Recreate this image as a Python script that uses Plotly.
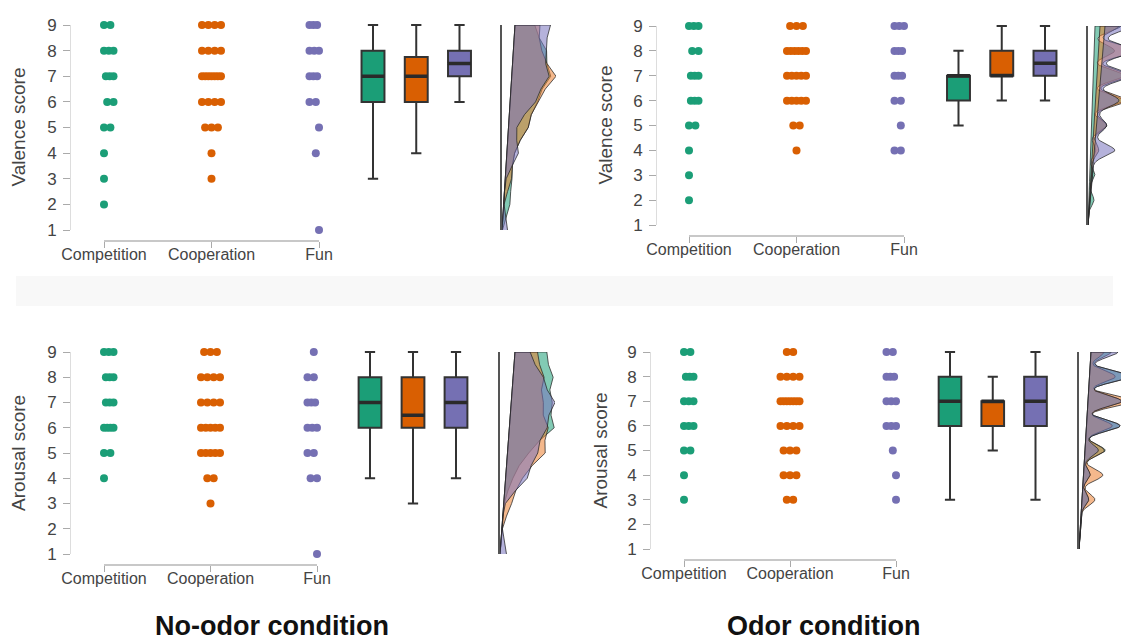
import numpy as np
import plotly.graph_objects as go

W, H = 1129, 642

# ---------------- data ----------------
CATEGORIES = ["Competition", "Cooperation", "Fun"]
SCORES = [1, 2, 3, 4, 5, 6, 7, 8, 9]
PANEL_TITLES = ["Valence score", "Valence score", "Arousal score", "Arousal score"]
CONDITION_TITLES = ["No-odor condition", "Odor condition"]

# number of participants giving each score 1..9
valence_noodor_competition = [0, 1, 1, 1, 3, 4, 6, 5, 3]
valence_noodor_cooperation = [0, 0, 1, 1, 3, 4, 7, 4, 4]
valence_noodor_fun = [1, 0, 0, 2, 1, 4, 6, 5, 6]

valence_odor_competition = [0, 1, 1, 1, 3, 6, 6, 4, 5]
valence_odor_cooperation = [0, 0, 0, 1, 2, 5, 5, 6, 3]
valence_odor_fun = [0, 0, 0, 4, 2, 4, 6, 6, 5]

arousal_noodor_competition = [0, 0, 0, 1, 3, 7, 6, 6, 5]
arousal_noodor_cooperation = [0, 0, 1, 2, 5, 5, 4, 4, 3]
arousal_noodor_fun = [1, 0, 0, 3, 4, 5, 6, 4, 2]

arousal_odor_competition = [0, 0, 1, 1, 3, 5, 5, 6, 3]
arousal_odor_cooperation = [0, 0, 2, 3, 3, 4, 7, 4, 2]
arousal_odor_fun = [0, 0, 1, 1, 2, 5, 5, 6, 4]

# box statistics (Competition, Cooperation, Fun)
valence_noodor_low = [3, 4, 6]
valence_noodor_q1 = [6, 6, 7]
valence_noodor_median = [7, 7, 7.5]
valence_noodor_q3 = [8, 7.75, 8]
valence_noodor_high = [9, 9, 9]

valence_odor_low = [5, 6, 6]
valence_odor_q1 = [6, 7, 7]
valence_odor_median = [7, 7, 7.5]
valence_odor_q3 = [7, 8, 8]
valence_odor_high = [8, 9, 9]

arousal_noodor_low = [4, 3, 4]
arousal_noodor_q1 = [6, 6, 6]
arousal_noodor_median = [7, 6.5, 7]
arousal_noodor_q3 = [8, 8, 8]
arousal_noodor_high = [9, 9, 9]

arousal_odor_low = [3, 5, 3]
arousal_odor_q1 = [6, 6, 6]
arousal_odor_median = [7, 7, 7]
arousal_odor_q3 = [8, 7, 8]
arousal_odor_high = [9, 8, 9]

# ---------------- styling / layout ----------------
COLORS = ["#1b9e77", "#d95f02", "#7570b3"]
FILLS = ["rgba(27,158,119,0.55)", "rgba(235,125,45,0.55)", "rgba(120,115,190,0.55)"]
TXT = "#444444"
FONT = "Liberation Sans, Arial, sans-serif"
BOX_W = 0.53

PANELS = [
    dict(title=PANEL_TITLES[0],
         counts=[valence_noodor_competition, valence_noodor_cooperation, valence_noodor_fun],
         box=[valence_noodor_low, valence_noodor_q1, valence_noodor_median, valence_noodor_q3, valence_noodor_high],
         p9=17, p1=222, yline=62, ytitle_x=18, bracket=233, cats_px=[96, 203, 311],
         box_px=[365, 408, 451.5], dens_x=494, dens_w=54, shear=[13, 13, 13], bw=0.45, step=0.5),
    dict(title=PANEL_TITLES[1],
         counts=[valence_odor_competition, valence_odor_cooperation, valence_odor_fun],
         box=[valence_odor_low, valence_odor_q1, valence_odor_median, valence_odor_q3, valence_odor_high],
         p9=18, p1=217, yline=648, ytitle_x=605, bracket=228, cats_px=[681, 789, 896],
         box_px=[950.5, 994, 1037], dens_x=1080, dens_w=48, shear=[7, 12, 17], bw=0.22, step=0.02),
    dict(title=PANEL_TITLES[2],
         counts=[arousal_noodor_competition, arousal_noodor_cooperation, arousal_noodor_fun],
         box=[arousal_noodor_low, arousal_noodor_q1, arousal_noodor_median, arousal_noodor_q3, arousal_noodor_high],
         p9=344, p1=546, yline=62, ytitle_x=18, bracket=557, cats_px=[96, 202, 309],
         box_px=[362, 405.5, 448], dens_x=492, dens_w=55, shear=[15, 15, 15], bw=0.45, step=0.5),
    dict(title=PANEL_TITLES[3],
         counts=[arousal_odor_competition, arousal_odor_cooperation, arousal_odor_fun],
         box=[arousal_odor_low, arousal_odor_q1, arousal_odor_median, arousal_odor_q3, arousal_odor_high],
         p9=344, p1=541, yline=642, ytitle_x=600, bracket=552, cats_px=[676, 782, 888],
         box_px=[942, 985, 1027.5], dens_x=1071, dens_w=54, shear=[12, 12, 12], bw=0.22, step=0.02),
]


def fx(px):
    return px / W


def fy(py):
    return 1 - py / H


def kde(values, grid, bw):
    v = np.asarray(values, float)[:, None]
    return np.exp(-0.5 * ((grid[None, :] - v) / bw) ** 2).sum(0) / (len(values) * bw * np.sqrt(2 * np.pi))


fig = go.Figure()
layout = {}
annotations = []
ax = 0

for p in PANELS:
    k = (p["p1"] - p["p9"]) / 8.0

    def py(s, p=p, k=k):
        return p["p1"] - (s - 1) * k

    # ----- dots -----
    ax += 1
    xa, ya = f"x{ax}", f"y{ax}"
    c1, c3 = p["cats_px"][0], p["cats_px"][2]
    ppu = (c3 - c1) / 2.0
    for gi, counts in enumerate(p["counts"]):
        xs, ys = [], []
        for s, n in zip(SCORES, counts):
            if n == 0:
                continue
            half = min(9.5, (n - 1) * 3.2)
            offs = np.linspace(-half, half, n) if n > 1 else np.array([0.0])
            xs.extend(list(gi + 1 + offs / ppu))
            ys.extend([s] * n)
        fig.add_trace(go.Scatter(x=xs, y=ys, mode="markers", xaxis=xa, yaxis=ya,
                                 marker=dict(size=8, color=COLORS[gi], line=dict(width=0)),
                                 cliponaxis=False, showlegend=False, hoverinfo="y"))
    layout[f"xaxis{ax}"] = dict(domain=[fx(c1), fx(c3)], range=[1, 3], anchor="free",
                                position=fy(p["bracket"]), tickvals=[1, 2, 3], ticktext=CATEGORIES,
                                ticks="outside", ticklen=6, tickcolor="#aaaaaa", showline=True,
                                linecolor="#c8c8c8", linewidth=1.5, showgrid=False, zeroline=False,
                                automargin=False, ticklabelstandoff=-7,
                                tickfont=dict(size=16, color=TXT, family=FONT))
    layout[f"yaxis{ax}"] = dict(domain=[fy(py(1)), fy(py(9))], range=[1, 9], anchor="free",
                                position=fx(p["yline"]), tickvals=SCORES, ticks="outside", ticklen=7,
                                tickcolor="#aaaaaa", showline=True, linecolor="#dddddd", linewidth=1,
                                showgrid=False, zeroline=False, automargin=False, ticklabelstandoff=3,
                                tickfont=dict(size=17, color=TXT, family=FONT))
    annotations.append(dict(x=fx(p["ytitle_x"] - 8), y=fy((py(1) + py(9)) / 2), xref="paper", yref="paper",
                            xanchor="center", yanchor="middle",
                            text=p["title"], textangle=-90, showarrow=False,
                            font=dict(size=19, color=TXT, family=FONT)))

    # ----- boxes -----
    ax += 1
    xa, ya = f"x{ax}", f"y{ax}"
    b1, b3 = p["box_px"][0], p["box_px"][2]
    d = (b3 - b1) / 2.0
    low, q1, med, q3, high = p["box"]
    for gi, cat in enumerate(CATEGORIES):
        fig.add_trace(go.Box(x=[gi], q1=[q1[gi]], median=[med[gi]], q3=[q3[gi]],
                             lowerfence=[low[gi]], upperfence=[high[gi]], orientation="v", name=cat,
                             xaxis=xa, yaxis=ya, width=BOX_W, whiskerwidth=0.45,
                             fillcolor=COLORS[gi], line=dict(color="#333333", width=2),
                             boxpoints=False, showlegend=False))
        fig.add_trace(go.Scatter(x=[gi - BOX_W / 2, gi + BOX_W / 2], y=[med[gi], med[gi]], mode="lines",
                                 line=dict(color="#2a2a2a", width=3.5), xaxis=xa, yaxis=ya,
                                 showlegend=False, hoverinfo="skip"))
    layout[f"xaxis{ax}"] = dict(domain=[fx(b1 - d / 2), fx(b3 + d / 2)], anchor=ya,
                                range=[-0.5, 2.5], visible=False, automargin=False)
    layout[f"yaxis{ax}"] = dict(domain=[fy(py(0.5)), fy(py(9.5))], anchor=xa, range=[0.5, 9.5],
                                visible=False, automargin=False)

    # ----- densities -----
    ax += 1
    xa, ya = f"x{ax}", f"y{ax}"
    grid = np.arange(1, 9 + 1e-9, p["step"])
    dens = []
    offs = []
    for gi, counts in enumerate(p["counts"]):
        vals = np.repeat(SCORES, counts)
        dens.append(kde(vals, grid, p["bw"]))
        offs.append(p["shear"][gi] * (grid - 1) / 8.0)
    scale = min(np.min((p["dens_w"] - o[dd > 1e-6]) / dd[dd > 1e-6]) for o, dd in zip(offs, dens))
    for gi in [0, 1, 2]:
        xs = np.concatenate([offs[gi] + scale * dens[gi], offs[gi][::-1]])
        ys = np.concatenate([grid, grid[::-1]])
        fig.add_trace(go.Scatter(x=xs, y=ys, mode="lines", fill="toself", fillcolor=FILLS[gi],
                                 line=dict(color="rgba(40,40,40,0.85)", width=0.9),
                                 xaxis=xa, yaxis=ya, showlegend=False, hoverinfo="skip"))
    layout[f"xaxis{ax}"] = dict(domain=[fx(p["dens_x"]), fx(p["dens_x"] + p["dens_w"])], anchor=ya,
                                range=[0, p["dens_w"]], visible=False, automargin=False)
    layout[f"yaxis{ax}"] = dict(domain=[fy(py(1)), fy(py(9))], anchor=xa, range=[1, 9],
                                showline=True, linecolor="#555555", linewidth=1.5, showticklabels=False,
                                ticks="", showgrid=False, zeroline=False, automargin=False)

annotations.append(dict(x=fx(264), y=fy(618), xref="paper", yref="paper", text=CONDITION_TITLES[0],
                        xanchor="center", yanchor="middle",
                        showarrow=False, font=dict(size=27, color="#111111", family=FONT, weight="bold")))
annotations.append(dict(x=fx(815), y=fy(618), xref="paper", yref="paper", text=CONDITION_TITLES[1],
                        xanchor="center", yanchor="middle",
                        showarrow=False, font=dict(size=27, color="#111111", family=FONT, weight="bold")))

fig.update_layout(width=W, height=H, margin=dict(l=0, r=0, t=0, b=0, pad=0, autoexpand=False),
                  paper_bgcolor="white", plot_bgcolor="rgba(0,0,0,0)", showlegend=False,
                  annotations=annotations,
                  shapes=[dict(type="rect", xref="paper", yref="paper", x0=fx(8), x1=fx(1105),
                               y0=fy(298), y1=fy(268), fillcolor="#f8f8f8", line=dict(width=0),
                               layer="below")],
                  **layout)

fig.write_html("out.html")
